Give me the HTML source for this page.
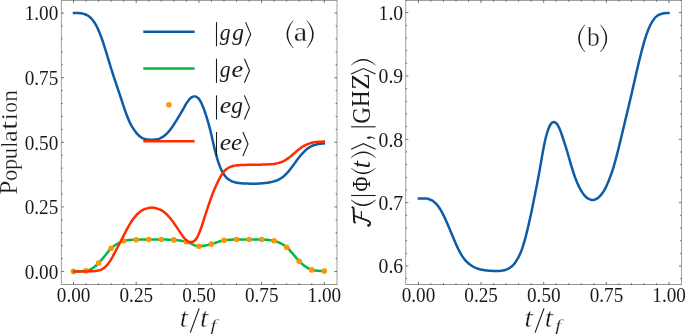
<!DOCTYPE html><html><head><meta charset="utf-8"><style>html,body{margin:0;padding:0;background:#fff;font-family:"Liberation Serif",serif}svg{display:block;will-change:transform}</style></head><body><svg width="685" height="334" viewBox="0 0 685 334"><rect width="685" height="334" fill="#fff"/><g stroke="#111" stroke-width="0.58" fill="none"><path d="M73.50 284.50v-2.6M73.50 0.40v2.6"/><path d="M86.04 284.50v-1.4M86.04 0.40v1.4"/><path d="M98.58 284.50v-1.4M98.58 0.40v1.4"/><path d="M111.12 284.50v-1.4M111.12 0.40v1.4"/><path d="M123.66 284.50v-1.4M123.66 0.40v1.4"/><path d="M136.20 284.50v-2.6M136.20 0.40v2.6"/><path d="M148.74 284.50v-1.4M148.74 0.40v1.4"/><path d="M161.28 284.50v-1.4M161.28 0.40v1.4"/><path d="M173.82 284.50v-1.4M173.82 0.40v1.4"/><path d="M186.36 284.50v-1.4M186.36 0.40v1.4"/><path d="M198.90 284.50v-2.6M198.90 0.40v2.6"/><path d="M211.44 284.50v-1.4M211.44 0.40v1.4"/><path d="M223.98 284.50v-1.4M223.98 0.40v1.4"/><path d="M236.52 284.50v-1.4M236.52 0.40v1.4"/><path d="M249.06 284.50v-1.4M249.06 0.40v1.4"/><path d="M261.60 284.50v-2.6M261.60 0.40v2.6"/><path d="M274.14 284.50v-1.4M274.14 0.40v1.4"/><path d="M286.68 284.50v-1.4M286.68 0.40v1.4"/><path d="M299.22 284.50v-1.4M299.22 0.40v1.4"/><path d="M311.76 284.50v-1.4M311.76 0.40v1.4"/><path d="M324.30 284.50v-2.6M324.30 0.40v2.6"/><path d="M61.40 271.50h2.7M337.00 271.50h-2.7"/><path d="M61.40 206.90h2.7M337.00 206.90h-2.7"/><path d="M61.40 142.30h2.7M337.00 142.30h-2.7"/><path d="M61.40 77.70h2.7M337.00 77.70h-2.7"/><path d="M61.40 13.10h2.7M337.00 13.10h-2.7"/><path d="M61.40 258.58h1.4M337.00 258.58h-1.4"/><path d="M61.40 245.66h1.4M337.00 245.66h-1.4"/><path d="M61.40 232.74h1.4M337.00 232.74h-1.4"/><path d="M61.40 219.82h1.4M337.00 219.82h-1.4"/><path d="M61.40 193.98h1.4M337.00 193.98h-1.4"/><path d="M61.40 181.06h1.4M337.00 181.06h-1.4"/><path d="M61.40 168.14h1.4M337.00 168.14h-1.4"/><path d="M61.40 155.22h1.4M337.00 155.22h-1.4"/><path d="M61.40 129.38h1.4M337.00 129.38h-1.4"/><path d="M61.40 116.46h1.4M337.00 116.46h-1.4"/><path d="M61.40 103.54h1.4M337.00 103.54h-1.4"/><path d="M61.40 90.62h1.4M337.00 90.62h-1.4"/><path d="M61.40 64.78h1.4M337.00 64.78h-1.4"/><path d="M61.40 51.86h1.4M337.00 51.86h-1.4"/><path d="M61.40 38.94h1.4M337.00 38.94h-1.4"/><path d="M61.40 26.02h1.4M337.00 26.02h-1.4"/></g><path d="M61.40 0.40V284.50M337.00 0.40V284.50" fill="none" stroke="#111" stroke-width="0.40"/><path d="M61.20 0.40H337.20M61.20 284.50H337.20" fill="none" stroke="#111" stroke-width="0.46"/><g stroke="#111" stroke-width="0.58" fill="none"><path d="M418.40 284.50v-2.6M418.40 0.40v2.6"/><path d="M430.93 284.50v-1.4M430.93 0.40v1.4"/><path d="M443.46 284.50v-1.4M443.46 0.40v1.4"/><path d="M455.99 284.50v-1.4M455.99 0.40v1.4"/><path d="M468.52 284.50v-1.4M468.52 0.40v1.4"/><path d="M481.05 284.50v-2.6M481.05 0.40v2.6"/><path d="M493.58 284.50v-1.4M493.58 0.40v1.4"/><path d="M506.11 284.50v-1.4M506.11 0.40v1.4"/><path d="M518.64 284.50v-1.4M518.64 0.40v1.4"/><path d="M531.17 284.50v-1.4M531.17 0.40v1.4"/><path d="M543.70 284.50v-2.6M543.70 0.40v2.6"/><path d="M556.23 284.50v-1.4M556.23 0.40v1.4"/><path d="M568.76 284.50v-1.4M568.76 0.40v1.4"/><path d="M581.29 284.50v-1.4M581.29 0.40v1.4"/><path d="M593.82 284.50v-1.4M593.82 0.40v1.4"/><path d="M606.35 284.50v-2.6M606.35 0.40v2.6"/><path d="M618.88 284.50v-1.4M618.88 0.40v1.4"/><path d="M631.41 284.50v-1.4M631.41 0.40v1.4"/><path d="M643.94 284.50v-1.4M643.94 0.40v1.4"/><path d="M656.47 284.50v-1.4M656.47 0.40v1.4"/><path d="M669.00 284.50v-2.6M669.00 0.40v2.6"/><path d="M405.70 266.00h2.7M681.50 266.00h-2.7"/><path d="M405.70 202.65h2.7M681.50 202.65h-2.7"/><path d="M405.70 139.30h2.7M681.50 139.30h-2.7"/><path d="M405.70 75.95h2.7M681.50 75.95h-2.7"/><path d="M405.70 12.60h2.7M681.50 12.60h-2.7"/><path d="M405.70 278.67h1.4M681.50 278.67h-1.4"/><path d="M405.70 253.33h1.4M681.50 253.33h-1.4"/><path d="M405.70 240.66h1.4M681.50 240.66h-1.4"/><path d="M405.70 227.99h1.4M681.50 227.99h-1.4"/><path d="M405.70 215.32h1.4M681.50 215.32h-1.4"/><path d="M405.70 189.98h1.4M681.50 189.98h-1.4"/><path d="M405.70 177.31h1.4M681.50 177.31h-1.4"/><path d="M405.70 164.64h1.4M681.50 164.64h-1.4"/><path d="M405.70 151.97h1.4M681.50 151.97h-1.4"/><path d="M405.70 126.63h1.4M681.50 126.63h-1.4"/><path d="M405.70 113.96h1.4M681.50 113.96h-1.4"/><path d="M405.70 101.29h1.4M681.50 101.29h-1.4"/><path d="M405.70 88.62h1.4M681.50 88.62h-1.4"/><path d="M405.70 63.28h1.4M681.50 63.28h-1.4"/><path d="M405.70 50.61h1.4M681.50 50.61h-1.4"/><path d="M405.70 37.94h1.4M681.50 37.94h-1.4"/><path d="M405.70 25.27h1.4M681.50 25.27h-1.4"/><path d="M405.70 -0.07h1.4M681.50 -0.07h-1.4"/></g><path d="M405.70 0.40V284.50M681.50 0.40V284.50" fill="none" stroke="#111" stroke-width="0.40"/><path d="M405.50 0.40H681.70M405.50 284.50H681.70" fill="none" stroke="#111" stroke-width="0.46"/><clipPath id="ca"><rect x="61.4" y="0.4" width="275.6" height="284.1"/></clipPath><g fill="none" stroke-width="2.50" stroke-linecap="square" stroke-linejoin="round"><path d="M74.00 13.01 C74.17 13.01 74.67 13.01 75.00 13.02 C75.33 13.02 75.67 13.03 76.00 13.03 C76.33 13.04 76.67 13.05 77.00 13.05 C77.33 13.06 77.67 13.07 78.00 13.08 C78.33 13.10 78.67 13.11 79.00 13.12 C79.33 13.14 79.67 13.16 80.00 13.18 C80.33 13.21 80.67 13.24 81.00 13.28 C81.33 13.32 81.67 13.36 82.00 13.42 C82.33 13.49 82.67 13.56 83.00 13.64 C83.33 13.72 83.67 13.82 84.00 13.93 C84.33 14.04 84.67 14.15 85.00 14.28 C85.33 14.41 85.67 14.55 86.00 14.70 C86.33 14.86 86.67 15.02 87.00 15.20 C87.33 15.38 87.67 15.57 88.00 15.79 C88.33 16.00 88.67 16.23 89.00 16.48 C89.33 16.72 89.67 16.99 90.00 17.27 C90.33 17.56 90.67 17.86 91.00 18.19 C91.33 18.52 91.67 18.87 92.00 19.25 C92.33 19.63 92.67 20.04 93.00 20.47 C93.33 20.90 93.67 21.37 94.00 21.86 C94.33 22.35 94.67 22.87 95.00 23.42 C95.33 23.96 95.67 24.53 96.00 25.14 C96.33 25.74 96.67 26.37 97.00 27.04 C97.33 27.70 97.67 28.40 98.00 29.13 C98.33 29.86 98.67 30.62 99.00 31.41 C99.33 32.20 99.67 33.03 100.00 33.88 C100.33 34.73 100.67 35.60 101.00 36.50 C101.33 37.40 101.67 38.32 102.00 39.27 C102.33 40.21 102.67 41.19 103.00 42.18 C103.33 43.17 103.67 44.19 104.00 45.22 C104.33 46.25 104.67 47.31 105.00 48.37 C105.33 49.44 105.67 50.52 106.00 51.60 C106.33 52.68 106.67 53.77 107.00 54.87 C107.33 55.96 107.67 57.06 108.00 58.15 C108.33 59.25 108.67 60.36 109.00 61.46 C109.33 62.55 109.67 63.66 110.00 64.75 C110.33 65.84 110.67 66.93 111.00 68.00 C111.33 69.08 111.67 70.15 112.00 71.20 C112.33 72.25 112.67 73.29 113.00 74.33 C113.33 75.36 113.67 76.37 114.00 77.39 C114.33 78.40 114.67 79.41 115.00 80.41 C115.33 81.41 115.67 82.41 116.00 83.40 C116.33 84.40 116.67 85.39 117.00 86.39 C117.33 87.38 117.67 88.37 118.00 89.36 C118.33 90.36 118.67 91.35 119.00 92.35 C119.33 93.34 119.67 94.34 120.00 95.34 C120.33 96.35 120.67 97.35 121.00 98.36 C121.33 99.37 121.67 100.39 122.00 101.40 C122.33 102.41 122.67 103.42 123.00 104.42 C123.33 105.42 123.67 106.42 124.00 107.40 C124.33 108.38 124.67 109.35 125.00 110.30 C125.33 111.24 125.67 112.18 126.00 113.09 C126.33 114.00 126.67 114.89 127.00 115.76 C127.33 116.62 127.67 117.47 128.00 118.29 C128.33 119.11 128.67 119.91 129.00 120.67 C129.33 121.43 129.67 122.16 130.00 122.86 C130.33 123.55 130.67 124.20 131.00 124.82 C131.33 125.44 131.67 126.02 132.00 126.58 C132.33 127.14 132.67 127.66 133.00 128.18 C133.33 128.69 133.67 129.18 134.00 129.66 C134.33 130.14 134.67 130.61 135.00 131.07 C135.33 131.53 135.67 131.97 136.00 132.40 C136.33 132.82 136.67 133.24 137.00 133.63 C137.33 134.02 137.67 134.39 138.00 134.73 C138.33 135.08 138.67 135.41 139.00 135.71 C139.33 136.01 139.67 136.29 140.00 136.55 C140.33 136.81 140.67 137.04 141.00 137.26 C141.33 137.48 141.67 137.67 142.00 137.85 C142.33 138.04 142.67 138.20 143.00 138.35 C143.33 138.50 143.67 138.63 144.00 138.75 C144.33 138.87 144.67 138.97 145.00 139.06 C145.33 139.15 145.67 139.22 146.00 139.29 C146.33 139.35 146.67 139.40 147.00 139.45 C147.33 139.49 147.67 139.53 148.00 139.56 C148.33 139.59 148.67 139.62 149.00 139.65 C149.33 139.67 149.67 139.69 150.00 139.71 C150.33 139.72 150.67 139.74 151.00 139.75 C151.33 139.75 151.67 139.76 152.00 139.76 C152.33 139.76 152.67 139.76 153.00 139.75 C153.33 139.74 153.67 139.72 154.00 139.70 C154.33 139.68 154.67 139.65 155.00 139.61 C155.33 139.58 155.67 139.54 156.00 139.49 C156.33 139.45 156.67 139.40 157.00 139.33 C157.33 139.27 157.67 139.20 158.00 139.11 C158.33 139.03 158.67 138.93 159.00 138.82 C159.33 138.70 159.67 138.57 160.00 138.43 C160.33 138.28 160.67 138.12 161.00 137.94 C161.33 137.77 161.67 137.58 162.00 137.38 C162.33 137.18 162.67 136.97 163.00 136.75 C163.33 136.52 163.67 136.29 164.00 136.03 C164.33 135.78 164.67 135.52 165.00 135.24 C165.33 134.96 165.67 134.67 166.00 134.37 C166.33 134.06 166.67 133.74 167.00 133.40 C167.33 133.07 167.67 132.72 168.00 132.35 C168.33 131.98 168.67 131.60 169.00 131.20 C169.33 130.80 169.67 130.39 170.00 129.96 C170.33 129.53 170.67 129.09 171.00 128.64 C171.33 128.18 171.67 127.72 172.00 127.24 C172.33 126.77 172.67 126.28 173.00 125.79 C173.33 125.29 173.67 124.79 174.00 124.27 C174.33 123.76 174.67 123.24 175.00 122.71 C175.33 122.18 175.67 121.64 176.00 121.10 C176.33 120.57 176.67 120.02 177.00 119.48 C177.33 118.93 177.67 118.38 178.00 117.84 C178.33 117.29 178.67 116.74 179.00 116.19 C179.33 115.63 179.67 115.08 180.00 114.52 C180.33 113.97 180.67 113.41 181.00 112.85 C181.33 112.29 181.67 111.73 182.00 111.16 C182.33 110.59 182.67 110.02 183.00 109.44 C183.33 108.86 183.67 108.28 184.00 107.69 C184.33 107.11 184.67 106.52 185.00 105.94 C185.33 105.36 185.67 104.78 186.00 104.23 C186.33 103.67 186.67 103.12 187.00 102.61 C187.33 102.09 187.67 101.59 188.00 101.12 C188.33 100.65 188.67 100.21 189.00 99.80 C189.33 99.39 189.67 99.01 190.00 98.67 C190.33 98.33 190.67 98.01 191.00 97.75 C191.33 97.48 191.67 97.24 192.00 97.05 C192.33 96.86 192.67 96.71 193.00 96.59 C193.33 96.48 193.67 96.40 194.00 96.37 C194.33 96.33 194.67 96.33 195.00 96.38 C195.33 96.42 195.67 96.51 196.00 96.64 C196.33 96.77 196.67 96.94 197.00 97.17 C197.33 97.39 197.67 97.66 198.00 97.98 C198.33 98.30 198.67 98.67 199.00 99.09 C199.33 99.52 199.67 100.00 200.00 100.53 C200.33 101.07 200.67 101.65 201.00 102.30 C201.33 102.94 201.67 103.63 202.00 104.38 C202.33 105.12 202.67 105.92 203.00 106.76 C203.33 107.59 203.67 108.48 204.00 109.39 C204.33 110.31 204.67 111.27 205.00 112.25 C205.33 113.23 205.67 114.24 206.00 115.27 C206.33 116.31 206.67 117.36 207.00 118.45 C207.33 119.54 207.67 120.64 208.00 121.79 C208.33 122.94 208.67 124.12 209.00 125.35 C209.33 126.58 209.67 127.85 210.00 129.17 C210.33 130.49 210.67 131.86 211.00 133.27 C211.33 134.68 211.67 136.15 212.00 137.61 C212.33 139.07 212.67 140.58 213.00 142.04 C213.33 143.51 213.67 144.98 214.00 146.39 C214.33 147.80 214.67 149.19 215.00 150.51 C215.33 151.83 215.67 153.10 216.00 154.33 C216.33 155.55 216.67 156.72 217.00 157.84 C217.33 158.96 217.67 160.03 218.00 161.06 C218.33 162.09 218.67 163.07 219.00 164.01 C219.33 164.94 219.67 165.84 220.00 166.68 C220.33 167.52 220.67 168.32 221.00 169.06 C221.33 169.81 221.67 170.50 222.00 171.15 C222.33 171.80 222.67 172.39 223.00 172.96 C223.33 173.52 223.67 174.04 224.00 174.53 C224.33 175.01 224.67 175.46 225.00 175.89 C225.33 176.31 225.67 176.70 226.00 177.06 C226.33 177.42 226.67 177.75 227.00 178.06 C227.33 178.37 227.67 178.65 228.00 178.92 C228.33 179.18 228.67 179.42 229.00 179.65 C229.33 179.88 229.67 180.09 230.00 180.28 C230.33 180.48 230.67 180.66 231.00 180.83 C231.33 181.00 231.67 181.16 232.00 181.30 C232.33 181.45 232.67 181.57 233.00 181.69 C233.33 181.81 233.67 181.92 234.00 182.02 C234.33 182.12 234.67 182.20 235.00 182.29 C235.33 182.37 235.67 182.45 236.00 182.52 C236.33 182.60 236.67 182.67 237.00 182.73 C237.33 182.80 237.67 182.86 238.00 182.91 C238.33 182.97 238.67 183.02 239.00 183.07 C239.33 183.11 239.67 183.16 240.00 183.19 C240.33 183.23 240.67 183.27 241.00 183.29 C241.33 183.32 241.67 183.35 242.00 183.37 C242.33 183.39 242.67 183.41 243.00 183.43 C243.33 183.44 243.67 183.46 244.00 183.47 C244.33 183.49 244.67 183.50 245.00 183.51 C245.33 183.52 245.67 183.54 246.00 183.55 C246.33 183.56 246.67 183.57 247.00 183.58 C247.33 183.59 247.67 183.60 248.00 183.60 C248.33 183.61 248.67 183.62 249.00 183.63 C249.33 183.64 249.67 183.64 250.00 183.65 C250.33 183.66 250.67 183.66 251.00 183.67 C251.33 183.67 251.67 183.68 252.00 183.68 C252.33 183.68 252.67 183.69 253.00 183.69 C253.33 183.69 253.67 183.69 254.00 183.69 C254.33 183.69 254.67 183.69 255.00 183.69 C255.33 183.68 255.67 183.68 256.00 183.67 C256.33 183.66 256.67 183.65 257.00 183.64 C257.33 183.63 257.67 183.62 258.00 183.60 C258.33 183.59 258.67 183.57 259.00 183.55 C259.33 183.53 259.67 183.51 260.00 183.49 C260.33 183.47 260.67 183.44 261.00 183.42 C261.33 183.39 261.67 183.36 262.00 183.33 C262.33 183.31 262.67 183.28 263.00 183.25 C263.33 183.21 263.67 183.18 264.00 183.15 C264.33 183.12 264.67 183.08 265.00 183.05 C265.33 183.01 265.67 182.97 266.00 182.94 C266.33 182.90 266.67 182.86 267.00 182.82 C267.33 182.77 267.67 182.73 268.00 182.68 C268.33 182.63 268.67 182.58 269.00 182.52 C269.33 182.47 269.67 182.41 270.00 182.34 C270.33 182.28 270.67 182.21 271.00 182.13 C271.33 182.06 271.67 181.98 272.00 181.90 C272.33 181.82 272.67 181.73 273.00 181.64 C273.33 181.55 273.67 181.46 274.00 181.36 C274.33 181.26 274.67 181.16 275.00 181.05 C275.33 180.94 275.67 180.83 276.00 180.71 C276.33 180.59 276.67 180.46 277.00 180.33 C277.33 180.19 277.67 180.05 278.00 179.90 C278.33 179.75 278.67 179.59 279.00 179.42 C279.33 179.25 279.67 179.07 280.00 178.88 C280.33 178.69 280.67 178.50 281.00 178.29 C281.33 178.08 281.67 177.86 282.00 177.63 C282.33 177.39 282.67 177.15 283.00 176.89 C283.33 176.63 283.67 176.36 284.00 176.07 C284.33 175.78 284.67 175.48 285.00 175.16 C285.33 174.85 285.67 174.52 286.00 174.18 C286.33 173.85 286.67 173.50 287.00 173.14 C287.33 172.78 287.67 172.42 288.00 172.03 C288.33 171.65 288.67 171.26 289.00 170.86 C289.33 170.46 289.67 170.04 290.00 169.61 C290.33 169.19 290.67 168.75 291.00 168.30 C291.33 167.86 291.67 167.40 292.00 166.95 C292.33 166.49 292.67 166.03 293.00 165.57 C293.33 165.11 293.67 164.65 294.00 164.20 C294.33 163.74 294.67 163.28 295.00 162.83 C295.33 162.37 295.67 161.92 296.00 161.46 C296.33 161.01 296.67 160.56 297.00 160.11 C297.33 159.66 297.67 159.22 298.00 158.78 C298.33 158.34 298.67 157.90 299.00 157.48 C299.33 157.05 299.67 156.64 300.00 156.23 C300.33 155.82 300.67 155.42 301.00 155.03 C301.33 154.64 301.67 154.26 302.00 153.89 C302.33 153.52 302.67 153.15 303.00 152.80 C303.33 152.44 303.67 152.10 304.00 151.76 C304.33 151.42 304.67 151.10 305.00 150.79 C305.33 150.48 305.67 150.18 306.00 149.89 C306.33 149.60 306.67 149.33 307.00 149.07 C307.33 148.81 307.67 148.56 308.00 148.33 C308.33 148.09 308.67 147.86 309.00 147.64 C309.33 147.42 309.67 147.22 310.00 147.02 C310.33 146.82 310.67 146.63 311.00 146.46 C311.33 146.28 311.67 146.11 312.00 145.96 C312.33 145.80 312.67 145.66 313.00 145.53 C313.33 145.40 313.67 145.28 314.00 145.16 C314.33 145.05 314.67 144.94 315.00 144.84 C315.33 144.74 315.67 144.65 316.00 144.56 C316.33 144.48 316.67 144.40 317.00 144.32 C317.33 144.25 317.67 144.18 318.00 144.11 C318.33 144.05 318.67 143.99 319.00 143.94 C319.33 143.88 319.67 143.84 320.00 143.79 C320.33 143.75 320.67 143.71 321.00 143.67 C321.33 143.63 321.67 143.60 322.00 143.57 C322.33 143.54 322.70 143.52 323.00 143.50 C323.30 143.48 323.67 143.46 323.80 143.45" stroke="#0C5DA5"/><path d="M74.00 271.40 C74.17 271.39 74.67 271.39 75.00 271.39 C75.33 271.38 75.67 271.38 76.00 271.38 C76.33 271.37 76.67 271.36 77.00 271.36 C77.33 271.35 77.67 271.34 78.00 271.34 C78.33 271.33 78.67 271.32 79.00 271.31 C79.33 271.30 79.67 271.29 80.00 271.27 C80.33 271.26 80.67 271.24 81.00 271.22 C81.33 271.20 81.67 271.18 82.00 271.15 C82.33 271.12 82.67 271.09 83.00 271.06 C83.33 271.03 83.67 270.99 84.00 270.95 C84.33 270.92 84.67 270.87 85.00 270.83 C85.33 270.78 85.67 270.73 86.00 270.68 C86.33 270.62 86.67 270.55 87.00 270.48 C87.33 270.41 87.67 270.32 88.00 270.23 C88.33 270.14 88.67 270.03 89.00 269.92 C89.33 269.81 89.67 269.69 90.00 269.55 C90.33 269.42 90.67 269.28 91.00 269.12 C91.33 268.96 91.67 268.80 92.00 268.61 C92.33 268.42 92.67 268.21 93.00 267.98 C93.33 267.75 93.67 267.50 94.00 267.24 C94.33 266.98 94.67 266.69 95.00 266.40 C95.33 266.11 95.67 265.80 96.00 265.49 C96.33 265.18 96.67 264.86 97.00 264.54 C97.33 264.21 97.67 263.89 98.00 263.56 C98.33 263.23 98.67 262.89 99.00 262.55 C99.33 262.21 99.67 261.86 100.00 261.50 C100.33 261.14 100.67 260.78 101.00 260.40 C101.33 260.03 101.67 259.65 102.00 259.26 C102.33 258.88 102.67 258.48 103.00 258.09 C103.33 257.70 103.67 257.30 104.00 256.90 C104.33 256.50 104.67 256.10 105.00 255.70 C105.33 255.29 105.67 254.88 106.00 254.46 C106.33 254.04 106.67 253.62 107.00 253.20 C107.33 252.77 107.67 252.34 108.00 251.92 C108.33 251.50 108.67 251.08 109.00 250.69 C109.33 250.29 109.67 249.90 110.00 249.54 C110.33 249.17 110.67 248.83 111.00 248.50 C111.33 248.17 111.67 247.87 112.00 247.57 C112.33 247.28 112.67 247.00 113.00 246.73 C113.33 246.46 113.67 246.20 114.00 245.95 C114.33 245.71 114.67 245.47 115.00 245.24 C115.33 245.01 115.67 244.79 116.00 244.58 C116.33 244.36 116.67 244.16 117.00 243.97 C117.33 243.77 117.67 243.59 118.00 243.41 C118.33 243.23 118.67 243.05 119.00 242.89 C119.33 242.72 119.67 242.55 120.00 242.40 C120.33 242.24 120.67 242.09 121.00 241.95 C121.33 241.81 121.67 241.68 122.00 241.56 C122.33 241.44 122.67 241.33 123.00 241.22 C123.33 241.12 123.67 241.03 124.00 240.94 C124.33 240.86 124.67 240.78 125.00 240.70 C125.33 240.63 125.67 240.56 126.00 240.49 C126.33 240.42 126.67 240.36 127.00 240.30 C127.33 240.25 127.67 240.20 128.00 240.15 C128.33 240.10 128.67 240.06 129.00 240.02 C129.33 239.99 129.67 239.96 130.00 239.93 C130.33 239.91 130.67 239.89 131.00 239.87 C131.33 239.85 131.67 239.84 132.00 239.82 C132.33 239.81 132.67 239.80 133.00 239.79 C133.33 239.77 133.67 239.77 134.00 239.76 C134.33 239.75 134.67 239.74 135.00 239.73 C135.33 239.72 135.67 239.71 136.00 239.70 C136.33 239.70 136.67 239.69 137.00 239.68 C137.33 239.67 137.67 239.67 138.00 239.66 C138.33 239.65 138.67 239.64 139.00 239.64 C139.33 239.63 139.67 239.62 140.00 239.62 C140.33 239.61 140.67 239.60 141.00 239.59 C141.33 239.59 141.67 239.58 142.00 239.57 C142.33 239.57 142.67 239.56 143.00 239.56 C143.33 239.55 143.67 239.55 144.00 239.54 C144.33 239.54 144.67 239.53 145.00 239.53 C145.33 239.52 145.67 239.52 146.00 239.52 C146.33 239.51 146.67 239.51 147.00 239.51 C147.33 239.51 147.67 239.50 148.00 239.50 C148.33 239.50 148.67 239.50 149.00 239.50 C149.33 239.50 149.67 239.50 150.00 239.50 C150.33 239.50 150.67 239.50 151.00 239.50 C151.33 239.50 151.67 239.50 152.00 239.50 C152.33 239.50 152.67 239.50 153.00 239.50 C153.33 239.50 153.67 239.50 154.00 239.50 C154.33 239.50 154.67 239.50 155.00 239.50 C155.33 239.50 155.67 239.50 156.00 239.50 C156.33 239.50 156.67 239.50 157.00 239.50 C157.33 239.50 157.67 239.50 158.00 239.50 C158.33 239.50 158.67 239.50 159.00 239.50 C159.33 239.50 159.67 239.50 160.00 239.50 C160.33 239.50 160.67 239.50 161.00 239.50 C161.33 239.50 161.67 239.50 162.00 239.51 C162.33 239.51 162.67 239.51 163.00 239.51 C163.33 239.52 163.67 239.52 164.00 239.53 C164.33 239.53 164.67 239.54 165.00 239.55 C165.33 239.56 165.67 239.56 166.00 239.57 C166.33 239.58 166.67 239.59 167.00 239.60 C167.33 239.61 167.67 239.62 168.00 239.64 C168.33 239.65 168.67 239.66 169.00 239.67 C169.33 239.69 169.67 239.70 170.00 239.72 C170.33 239.73 170.67 239.75 171.00 239.76 C171.33 239.78 171.67 239.79 172.00 239.81 C172.33 239.83 172.67 239.84 173.00 239.86 C173.33 239.88 173.67 239.90 174.00 239.92 C174.33 239.94 174.67 239.96 175.00 239.99 C175.33 240.02 175.67 240.05 176.00 240.08 C176.33 240.11 176.67 240.14 177.00 240.18 C177.33 240.22 177.67 240.26 178.00 240.30 C178.33 240.35 178.67 240.39 179.00 240.44 C179.33 240.49 179.67 240.54 180.00 240.59 C180.33 240.65 180.67 240.70 181.00 240.76 C181.33 240.82 181.67 240.87 182.00 240.93 C182.33 241.00 182.67 241.06 183.00 241.12 C183.33 241.18 183.67 241.25 184.00 241.32 C184.33 241.38 184.67 241.45 185.00 241.52 C185.33 241.59 185.67 241.67 186.00 241.75 C186.33 241.83 186.67 241.91 187.00 242.01 C187.33 242.10 187.67 242.21 188.00 242.32 C188.33 242.44 188.67 242.57 189.00 242.70 C189.33 242.84 189.67 242.98 190.00 243.13 C190.33 243.28 190.67 243.44 191.00 243.60 C191.33 243.75 191.67 243.91 192.00 244.07 C192.33 244.23 192.67 244.39 193.00 244.54 C193.33 244.70 193.67 244.85 194.00 244.99 C194.33 245.14 194.67 245.27 195.00 245.40 C195.33 245.52 195.67 245.64 196.00 245.74 C196.33 245.84 196.67 245.93 197.00 246.00 C197.33 246.07 197.67 246.13 198.00 246.17 C198.33 246.21 198.67 246.23 199.00 246.24 C199.33 246.25 199.67 246.25 200.00 246.24 C200.33 246.22 200.67 246.20 201.00 246.17 C201.33 246.14 201.67 246.11 202.00 246.07 C202.33 246.03 202.67 245.98 203.00 245.93 C203.33 245.88 203.67 245.82 204.00 245.76 C204.33 245.70 204.67 245.64 205.00 245.57 C205.33 245.50 205.67 245.43 206.00 245.36 C206.33 245.29 206.67 245.21 207.00 245.14 C207.33 245.06 207.67 244.98 208.00 244.91 C208.33 244.83 208.67 244.75 209.00 244.67 C209.33 244.59 209.67 244.51 210.00 244.43 C210.33 244.35 210.67 244.28 211.00 244.19 C211.33 244.11 211.67 244.03 212.00 243.94 C212.33 243.85 212.67 243.76 213.00 243.66 C213.33 243.56 213.67 243.46 214.00 243.35 C214.33 243.24 214.67 243.13 215.00 243.01 C215.33 242.90 215.67 242.77 216.00 242.65 C216.33 242.53 216.67 242.41 217.00 242.28 C217.33 242.16 217.67 242.04 218.00 241.92 C218.33 241.80 218.67 241.68 219.00 241.56 C219.33 241.45 219.67 241.34 220.00 241.23 C220.33 241.13 220.67 241.03 221.00 240.94 C221.33 240.84 221.67 240.76 222.00 240.68 C222.33 240.61 222.67 240.54 223.00 240.48 C223.33 240.42 223.67 240.37 224.00 240.32 C224.33 240.28 224.67 240.24 225.00 240.20 C225.33 240.16 225.67 240.13 226.00 240.10 C226.33 240.07 226.67 240.03 227.00 240.00 C227.33 239.97 227.67 239.94 228.00 239.92 C228.33 239.89 228.67 239.86 229.00 239.83 C229.33 239.81 229.67 239.78 230.00 239.76 C230.33 239.73 230.67 239.71 231.00 239.69 C231.33 239.67 231.67 239.65 232.00 239.63 C232.33 239.62 232.67 239.60 233.00 239.59 C233.33 239.57 233.67 239.56 234.00 239.55 C234.33 239.54 234.67 239.53 235.00 239.52 C235.33 239.52 235.67 239.51 236.00 239.51 C236.33 239.51 236.67 239.50 237.00 239.50 C237.33 239.50 237.67 239.50 238.00 239.50 C238.33 239.50 238.67 239.50 239.00 239.50 C239.33 239.50 239.67 239.50 240.00 239.50 C240.33 239.50 240.67 239.50 241.00 239.50 C241.33 239.50 241.67 239.50 242.00 239.50 C242.33 239.50 242.67 239.50 243.00 239.50 C243.33 239.50 243.67 239.50 244.00 239.50 C244.33 239.50 244.67 239.50 245.00 239.50 C245.33 239.50 245.67 239.50 246.00 239.50 C246.33 239.50 246.67 239.50 247.00 239.50 C247.33 239.50 247.67 239.50 248.00 239.50 C248.33 239.50 248.67 239.50 249.00 239.50 C249.33 239.50 249.67 239.50 250.00 239.50 C250.33 239.50 250.67 239.50 251.00 239.50 C251.33 239.50 251.67 239.50 252.00 239.50 C252.33 239.50 252.67 239.50 253.00 239.50 C253.33 239.50 253.67 239.50 254.00 239.50 C254.33 239.50 254.67 239.50 255.00 239.50 C255.33 239.50 255.67 239.50 256.00 239.50 C256.33 239.50 256.67 239.50 257.00 239.50 C257.33 239.50 257.67 239.50 258.00 239.50 C258.33 239.50 258.67 239.50 259.00 239.50 C259.33 239.50 259.67 239.50 260.00 239.50 C260.33 239.50 260.67 239.50 261.00 239.50 C261.33 239.51 261.67 239.51 262.00 239.51 C262.33 239.52 262.67 239.52 263.00 239.53 C263.33 239.54 263.67 239.56 264.00 239.57 C264.33 239.59 264.67 239.61 265.00 239.63 C265.33 239.65 265.67 239.68 266.00 239.71 C266.33 239.73 266.67 239.76 267.00 239.80 C267.33 239.83 267.67 239.87 268.00 239.90 C268.33 239.94 268.67 239.98 269.00 240.02 C269.33 240.06 269.67 240.11 270.00 240.15 C270.33 240.20 270.67 240.25 271.00 240.30 C271.33 240.35 271.67 240.40 272.00 240.45 C272.33 240.50 272.67 240.56 273.00 240.62 C273.33 240.68 273.67 240.74 274.00 240.80 C274.33 240.87 274.67 240.95 275.00 241.03 C275.33 241.12 275.67 241.22 276.00 241.32 C276.33 241.43 276.67 241.54 277.00 241.67 C277.33 241.79 277.67 241.93 278.00 242.07 C278.33 242.21 278.67 242.36 279.00 242.51 C279.33 242.66 279.67 242.82 280.00 242.98 C280.33 243.14 280.67 243.30 281.00 243.48 C281.33 243.65 281.67 243.83 282.00 244.02 C282.33 244.21 282.67 244.40 283.00 244.61 C283.33 244.82 283.67 245.03 284.00 245.25 C284.33 245.48 284.67 245.71 285.00 245.95 C285.33 246.19 285.67 246.45 286.00 246.71 C286.33 246.97 286.67 247.25 287.00 247.54 C287.33 247.83 287.67 248.14 288.00 248.46 C288.33 248.79 288.67 249.13 289.00 249.48 C289.33 249.83 289.67 250.19 290.00 250.56 C290.33 250.93 290.67 251.32 291.00 251.70 C291.33 252.08 291.67 252.46 292.00 252.85 C292.33 253.24 292.67 253.62 293.00 254.01 C293.33 254.40 293.67 254.80 294.00 255.19 C294.33 255.59 294.67 255.99 295.00 256.40 C295.33 256.80 295.67 257.21 296.00 257.61 C296.33 258.01 296.67 258.42 297.00 258.80 C297.33 259.19 297.67 259.58 298.00 259.95 C298.33 260.32 298.67 260.68 299.00 261.02 C299.33 261.37 299.67 261.70 300.00 262.02 C300.33 262.35 300.67 262.66 301.00 262.97 C301.33 263.27 301.67 263.57 302.00 263.86 C302.33 264.15 302.67 264.44 303.00 264.71 C303.33 264.98 303.67 265.24 304.00 265.50 C304.33 265.75 304.67 265.99 305.00 266.23 C305.33 266.46 305.67 266.69 306.00 266.91 C306.33 267.13 306.67 267.35 307.00 267.56 C307.33 267.77 307.67 267.98 308.00 268.17 C308.33 268.37 308.67 268.56 309.00 268.73 C309.33 268.91 309.67 269.07 310.00 269.22 C310.33 269.36 310.67 269.49 311.00 269.61 C311.33 269.72 311.67 269.82 312.00 269.91 C312.33 269.99 312.67 270.06 313.00 270.13 C313.33 270.20 313.67 270.26 314.00 270.32 C314.33 270.37 314.67 270.42 315.00 270.47 C315.33 270.52 315.67 270.56 316.00 270.60 C316.33 270.64 316.67 270.67 317.00 270.70 C317.33 270.74 317.67 270.76 318.00 270.79 C318.33 270.82 318.67 270.84 319.00 270.87 C319.33 270.89 319.67 270.91 320.00 270.93 C320.33 270.95 320.67 270.97 321.00 270.99 C321.33 271.01 321.67 271.02 322.00 271.04 C322.33 271.05 322.70 271.06 323.00 271.07 C323.30 271.08 323.67 271.08 323.80 271.09" stroke="#00B945"/></g><g fill="#FF9500"><circle cx="73.50" cy="271.40" r="2.8"/><circle cx="86.04" cy="270.70" r="2.8"/><circle cx="98.58" cy="263.00" r="2.8"/><circle cx="111.12" cy="248.30" r="2.8"/><circle cx="123.66" cy="241.00" r="2.8"/><circle cx="136.20" cy="239.70" r="2.8"/><circle cx="148.74" cy="239.50" r="2.8"/><circle cx="161.28" cy="239.50" r="2.8"/><circle cx="173.82" cy="239.90" r="2.8"/><circle cx="186.36" cy="241.80" r="2.8"/><circle cx="198.90" cy="246.30" r="2.8"/><circle cx="211.44" cy="244.10" r="2.8"/><circle cx="223.98" cy="240.30" r="2.8"/><circle cx="236.52" cy="239.50" r="2.8"/><circle cx="249.06" cy="239.50" r="2.8"/><circle cx="261.60" cy="239.50" r="2.8"/><circle cx="274.14" cy="240.80" r="2.8"/><circle cx="286.68" cy="247.20" r="2.8"/><circle cx="299.22" cy="261.30" r="2.8"/><circle cx="311.76" cy="269.90" r="2.8"/><circle cx="324.30" cy="271.10" r="2.8"/></g><g fill="none" stroke-width="2.50" stroke-linecap="square" stroke-linejoin="round"><path d="M74.00 271.40 C74.17 271.40 74.67 271.40 75.00 271.40 C75.33 271.40 75.67 271.40 76.00 271.40 C76.33 271.40 76.67 271.40 77.00 271.40 C77.33 271.40 77.67 271.40 78.00 271.40 C78.33 271.40 78.67 271.40 79.00 271.40 C79.33 271.40 79.67 271.40 80.00 271.40 C80.33 271.40 80.67 271.40 81.00 271.40 C81.33 271.40 81.67 271.40 82.00 271.40 C82.33 271.40 82.67 271.40 83.00 271.40 C83.33 271.40 83.67 271.40 84.00 271.40 C84.33 271.40 84.67 271.40 85.00 271.40 C85.33 271.40 85.67 271.40 86.00 271.39 C86.33 271.39 86.67 271.39 87.00 271.39 C87.33 271.38 87.67 271.38 88.00 271.38 C88.33 271.37 88.67 271.36 89.00 271.36 C89.33 271.35 89.67 271.34 90.00 271.33 C90.33 271.32 90.67 271.31 91.00 271.30 C91.33 271.29 91.67 271.27 92.00 271.26 C92.33 271.24 92.67 271.22 93.00 271.20 C93.33 271.18 93.67 271.15 94.00 271.12 C94.33 271.09 94.67 271.06 95.00 271.03 C95.33 270.99 95.67 270.95 96.00 270.91 C96.33 270.87 96.67 270.82 97.00 270.77 C97.33 270.72 97.67 270.66 98.00 270.60 C98.33 270.54 98.67 270.47 99.00 270.39 C99.33 270.31 99.67 270.22 100.00 270.11 C100.33 270.00 100.67 269.88 101.00 269.74 C101.33 269.59 101.67 269.43 102.00 269.25 C102.33 269.07 102.67 268.87 103.00 268.65 C103.33 268.43 103.67 268.20 104.00 267.95 C104.33 267.69 104.67 267.42 105.00 267.14 C105.33 266.85 105.67 266.54 106.00 266.21 C106.33 265.87 106.67 265.52 107.00 265.15 C107.33 264.77 107.67 264.37 108.00 263.95 C108.33 263.53 108.67 263.09 109.00 262.63 C109.33 262.16 109.67 261.68 110.00 261.17 C110.33 260.67 110.67 260.14 111.00 259.58 C111.33 259.03 111.67 258.45 112.00 257.86 C112.33 257.27 112.67 256.65 113.00 256.03 C113.33 255.41 113.67 254.76 114.00 254.13 C114.33 253.49 114.67 252.84 115.00 252.21 C115.33 251.57 115.67 250.93 116.00 250.30 C116.33 249.66 116.67 249.03 117.00 248.41 C117.33 247.78 117.67 247.15 118.00 246.52 C118.33 245.90 118.67 245.27 119.00 244.64 C119.33 244.01 119.67 243.38 120.00 242.75 C120.33 242.11 120.67 241.47 121.00 240.83 C121.33 240.19 121.67 239.54 122.00 238.89 C122.33 238.23 122.67 237.57 123.00 236.91 C123.33 236.25 123.67 235.59 124.00 234.93 C124.33 234.27 124.67 233.60 125.00 232.95 C125.33 232.29 125.67 231.64 126.00 231.00 C126.33 230.36 126.67 229.73 127.00 229.11 C127.33 228.49 127.67 227.89 128.00 227.29 C128.33 226.70 128.67 226.11 129.00 225.54 C129.33 224.97 129.67 224.41 130.00 223.86 C130.33 223.31 130.67 222.77 131.00 222.25 C131.33 221.73 131.67 221.22 132.00 220.73 C132.33 220.24 132.67 219.76 133.00 219.30 C133.33 218.84 133.67 218.40 134.00 217.97 C134.33 217.54 134.67 217.12 135.00 216.72 C135.33 216.32 135.67 215.94 136.00 215.56 C136.33 215.19 136.67 214.83 137.00 214.49 C137.33 214.14 137.67 213.81 138.00 213.50 C138.33 213.18 138.67 212.88 139.00 212.59 C139.33 212.30 139.67 212.03 140.00 211.76 C140.33 211.50 140.67 211.25 141.00 211.01 C141.33 210.78 141.67 210.56 142.00 210.35 C142.33 210.15 142.67 209.96 143.00 209.79 C143.33 209.62 143.67 209.47 144.00 209.33 C144.33 209.19 144.67 209.07 145.00 208.95 C145.33 208.83 145.67 208.73 146.00 208.63 C146.33 208.52 146.67 208.43 147.00 208.34 C147.33 208.25 147.67 208.17 148.00 208.09 C148.33 208.02 148.67 207.95 149.00 207.89 C149.33 207.83 149.67 207.78 150.00 207.73 C150.33 207.69 150.67 207.66 151.00 207.63 C151.33 207.61 151.67 207.60 152.00 207.60 C152.33 207.60 152.67 207.61 153.00 207.63 C153.33 207.66 153.67 207.69 154.00 207.74 C154.33 207.79 154.67 207.85 155.00 207.92 C155.33 207.99 155.67 208.08 156.00 208.17 C156.33 208.26 156.67 208.36 157.00 208.47 C157.33 208.57 157.67 208.69 158.00 208.81 C158.33 208.93 158.67 209.05 159.00 209.19 C159.33 209.32 159.67 209.46 160.00 209.61 C160.33 209.76 160.67 209.92 161.00 210.09 C161.33 210.26 161.67 210.45 162.00 210.65 C162.33 210.85 162.67 211.07 163.00 211.30 C163.33 211.53 163.67 211.78 164.00 212.04 C164.33 212.30 164.67 212.58 165.00 212.87 C165.33 213.16 165.67 213.46 166.00 213.77 C166.33 214.08 166.67 214.40 167.00 214.72 C167.33 215.05 167.67 215.38 168.00 215.73 C168.33 216.08 168.67 216.43 169.00 216.79 C169.33 217.16 169.67 217.54 170.00 217.93 C170.33 218.32 170.67 218.73 171.00 219.15 C171.33 219.57 171.67 220.01 172.00 220.45 C172.33 220.90 172.67 221.36 173.00 221.83 C173.33 222.30 173.67 222.78 174.00 223.25 C174.33 223.73 174.67 224.22 175.00 224.71 C175.33 225.19 175.67 225.68 176.00 226.17 C176.33 226.66 176.67 227.15 177.00 227.64 C177.33 228.13 177.67 228.63 178.00 229.12 C178.33 229.62 178.67 230.13 179.00 230.63 C179.33 231.14 179.67 231.65 180.00 232.15 C180.33 232.66 180.67 233.17 181.00 233.66 C181.33 234.16 181.67 234.65 182.00 235.12 C182.33 235.60 182.67 236.06 183.00 236.49 C183.33 236.93 183.67 237.35 184.00 237.74 C184.33 238.14 184.67 238.51 185.00 238.86 C185.33 239.21 185.67 239.54 186.00 239.84 C186.33 240.14 186.67 240.42 187.00 240.66 C187.33 240.90 187.67 241.12 188.00 241.29 C188.33 241.47 188.67 241.62 189.00 241.74 C189.33 241.85 189.67 241.94 190.00 241.99 C190.33 242.05 190.67 242.08 191.00 242.07 C191.33 242.07 191.67 242.04 192.00 241.98 C192.33 241.91 192.67 241.82 193.00 241.67 C193.33 241.53 193.67 241.36 194.00 241.13 C194.33 240.89 194.67 240.62 195.00 240.28 C195.33 239.95 195.67 239.56 196.00 239.11 C196.33 238.66 196.67 238.15 197.00 237.58 C197.33 237.01 197.67 236.38 198.00 235.69 C198.33 235.01 198.67 234.27 199.00 233.49 C199.33 232.71 199.67 231.87 200.00 231.00 C200.33 230.12 200.67 229.20 201.00 228.25 C201.33 227.30 201.67 226.30 202.00 225.29 C202.33 224.29 202.67 223.24 203.00 222.20 C203.33 221.17 203.67 220.11 204.00 219.07 C204.33 218.04 204.67 217.00 205.00 215.98 C205.33 214.96 205.67 213.95 206.00 212.94 C206.33 211.93 206.67 210.94 207.00 209.94 C207.33 208.94 207.67 207.95 208.00 206.95 C208.33 205.96 208.67 204.96 209.00 203.97 C209.33 202.98 209.67 201.98 210.00 201.01 C210.33 200.03 210.67 199.05 211.00 198.11 C211.33 197.17 211.67 196.24 212.00 195.35 C212.33 194.46 212.67 193.59 213.00 192.76 C213.33 191.92 213.67 191.12 214.00 190.33 C214.33 189.54 214.67 188.78 215.00 188.02 C215.33 187.27 215.67 186.53 216.00 185.79 C216.33 185.06 216.67 184.33 217.00 183.61 C217.33 182.90 217.67 182.19 218.00 181.50 C218.33 180.80 218.67 180.12 219.00 179.47 C219.33 178.81 219.67 178.18 220.00 177.56 C220.33 176.95 220.67 176.36 221.00 175.80 C221.33 175.23 221.67 174.69 222.00 174.18 C222.33 173.68 222.67 173.19 223.00 172.74 C223.33 172.29 223.67 171.87 224.00 171.48 C224.33 171.09 224.67 170.73 225.00 170.40 C225.33 170.06 225.67 169.75 226.00 169.47 C226.33 169.18 226.67 168.92 227.00 168.67 C227.33 168.43 227.67 168.21 228.00 168.00 C228.33 167.80 228.67 167.62 229.00 167.46 C229.33 167.29 229.67 167.15 230.00 167.01 C230.33 166.87 230.67 166.75 231.00 166.64 C231.33 166.53 231.67 166.42 232.00 166.32 C232.33 166.23 232.67 166.14 233.00 166.05 C233.33 165.96 233.67 165.88 234.00 165.81 C234.33 165.74 234.67 165.67 235.00 165.61 C235.33 165.55 235.67 165.49 236.00 165.45 C236.33 165.40 236.67 165.36 237.00 165.32 C237.33 165.28 237.67 165.25 238.00 165.22 C238.33 165.20 238.67 165.18 239.00 165.15 C239.33 165.13 239.67 165.12 240.00 165.10 C240.33 165.08 240.67 165.07 241.00 165.05 C241.33 165.04 241.67 165.03 242.00 165.02 C242.33 165.00 242.67 164.99 243.00 164.98 C243.33 164.97 243.67 164.96 244.00 164.95 C244.33 164.94 244.67 164.93 245.00 164.92 C245.33 164.91 245.67 164.91 246.00 164.90 C246.33 164.89 246.67 164.88 247.00 164.87 C247.33 164.87 247.67 164.86 248.00 164.85 C248.33 164.85 248.67 164.84 249.00 164.83 C249.33 164.82 249.67 164.82 250.00 164.81 C250.33 164.80 250.67 164.80 251.00 164.79 C251.33 164.79 251.67 164.78 252.00 164.77 C252.33 164.77 252.67 164.76 253.00 164.76 C253.33 164.75 253.67 164.75 254.00 164.74 C254.33 164.74 254.67 164.73 255.00 164.73 C255.33 164.72 255.67 164.72 256.00 164.72 C256.33 164.71 256.67 164.71 257.00 164.70 C257.33 164.70 257.67 164.69 258.00 164.69 C258.33 164.69 258.67 164.68 259.00 164.68 C259.33 164.67 259.67 164.67 260.00 164.66 C260.33 164.65 260.67 164.65 261.00 164.64 C261.33 164.64 261.67 164.63 262.00 164.62 C262.33 164.61 262.67 164.61 263.00 164.60 C263.33 164.59 263.67 164.58 264.00 164.57 C264.33 164.56 264.67 164.55 265.00 164.54 C265.33 164.52 265.67 164.51 266.00 164.50 C266.33 164.48 266.67 164.47 267.00 164.45 C267.33 164.44 267.67 164.42 268.00 164.40 C268.33 164.38 268.67 164.37 269.00 164.35 C269.33 164.33 269.67 164.30 270.00 164.28 C270.33 164.26 270.67 164.24 271.00 164.21 C271.33 164.18 271.67 164.16 272.00 164.13 C272.33 164.10 272.67 164.07 273.00 164.03 C273.33 164.00 273.67 163.96 274.00 163.91 C274.33 163.87 274.67 163.82 275.00 163.77 C275.33 163.71 275.67 163.65 276.00 163.59 C276.33 163.52 276.67 163.45 277.00 163.37 C277.33 163.29 277.67 163.20 278.00 163.11 C278.33 163.03 278.67 162.93 279.00 162.83 C279.33 162.73 279.67 162.63 280.00 162.52 C280.33 162.41 280.67 162.30 281.00 162.18 C281.33 162.05 281.67 161.93 282.00 161.79 C282.33 161.66 282.67 161.51 283.00 161.36 C283.33 161.20 283.67 161.04 284.00 160.87 C284.33 160.69 284.67 160.51 285.00 160.32 C285.33 160.12 285.67 159.92 286.00 159.71 C286.33 159.51 286.67 159.29 287.00 159.07 C287.33 158.85 287.67 158.62 288.00 158.39 C288.33 158.15 288.67 157.91 289.00 157.66 C289.33 157.41 289.67 157.16 290.00 156.89 C290.33 156.63 290.67 156.36 291.00 156.08 C291.33 155.81 291.67 155.53 292.00 155.24 C292.33 154.96 292.67 154.67 293.00 154.39 C293.33 154.10 293.67 153.81 294.00 153.53 C294.33 153.24 294.67 152.95 295.00 152.66 C295.33 152.37 295.67 152.08 296.00 151.79 C296.33 151.50 296.67 151.20 297.00 150.91 C297.33 150.63 297.67 150.34 298.00 150.06 C298.33 149.78 298.67 149.50 299.00 149.23 C299.33 148.97 299.67 148.71 300.00 148.46 C300.33 148.21 300.67 147.97 301.00 147.73 C301.33 147.50 301.67 147.28 302.00 147.06 C302.33 146.85 302.67 146.64 303.00 146.44 C303.33 146.24 303.67 146.05 304.00 145.86 C304.33 145.67 304.67 145.49 305.00 145.32 C305.33 145.15 305.67 144.99 306.00 144.84 C306.33 144.68 306.67 144.53 307.00 144.39 C307.33 144.25 307.67 144.12 308.00 143.99 C308.33 143.86 308.67 143.74 309.00 143.63 C309.33 143.51 309.67 143.40 310.00 143.29 C310.33 143.19 310.67 143.09 311.00 143.00 C311.33 142.91 311.67 142.82 312.00 142.74 C312.33 142.66 312.67 142.59 313.00 142.52 C313.33 142.45 313.67 142.40 314.00 142.34 C314.33 142.28 314.67 142.23 315.00 142.19 C315.33 142.14 315.67 142.10 316.00 142.06 C316.33 142.01 316.67 141.98 317.00 141.94 C317.33 141.91 317.67 141.88 318.00 141.85 C318.33 141.82 318.67 141.79 319.00 141.76 C319.33 141.74 319.67 141.72 320.00 141.69 C320.33 141.67 320.67 141.65 321.00 141.64 C321.33 141.62 321.67 141.60 322.00 141.59 C322.33 141.57 322.70 141.56 323.00 141.55 C323.30 141.54 323.67 141.53 323.80 141.53" stroke="#FF2C00"/><path d="M418.90 198.40 C419.07 198.40 419.57 198.40 419.90 198.40 C420.23 198.40 420.57 198.40 420.90 198.40 C421.23 198.40 421.57 198.40 421.90 198.40 C422.23 198.40 422.57 198.40 422.90 198.40 C423.23 198.40 423.57 198.40 423.90 198.41 C424.23 198.41 424.57 198.41 424.90 198.43 C425.23 198.44 425.57 198.45 425.90 198.48 C426.23 198.51 426.57 198.55 426.90 198.60 C427.23 198.66 427.57 198.72 427.90 198.80 C428.23 198.89 428.57 198.99 428.90 199.10 C429.23 199.21 429.57 199.34 429.90 199.48 C430.23 199.61 430.57 199.76 430.90 199.93 C431.23 200.09 431.57 200.26 431.90 200.45 C432.23 200.64 432.57 200.84 432.90 201.06 C433.23 201.28 433.57 201.52 433.90 201.78 C434.23 202.04 434.57 202.32 434.90 202.62 C435.23 202.92 435.57 203.24 435.90 203.59 C436.23 203.93 436.57 204.29 436.90 204.67 C437.23 205.05 437.57 205.46 437.90 205.88 C438.23 206.31 438.57 206.76 438.90 207.24 C439.23 207.72 439.57 208.22 439.90 208.75 C440.23 209.27 440.57 209.82 440.90 210.39 C441.23 210.96 441.57 211.55 441.90 212.15 C442.23 212.76 442.57 213.39 442.90 214.03 C443.23 214.68 443.57 215.34 443.90 216.03 C444.23 216.71 444.57 217.41 444.90 218.13 C445.23 218.85 445.57 219.59 445.90 220.33 C446.23 221.07 446.57 221.83 446.90 222.60 C447.23 223.36 447.57 224.13 447.90 224.91 C448.23 225.68 448.57 226.47 448.90 227.26 C449.23 228.05 449.57 228.84 449.90 229.64 C450.23 230.44 450.57 231.24 450.90 232.04 C451.23 232.84 451.57 233.65 451.90 234.45 C452.23 235.26 452.57 236.06 452.90 236.86 C453.23 237.65 453.57 238.45 453.90 239.24 C454.23 240.03 454.57 240.81 454.90 241.59 C455.23 242.36 455.57 243.13 455.90 243.89 C456.23 244.64 456.57 245.39 456.90 246.12 C457.23 246.85 457.57 247.57 457.90 248.27 C458.23 248.97 458.57 249.65 458.90 250.31 C459.23 250.97 459.57 251.61 459.90 252.22 C460.23 252.83 460.57 253.42 460.90 253.99 C461.23 254.55 461.57 255.09 461.90 255.61 C462.23 256.13 462.57 256.63 462.90 257.11 C463.23 257.59 463.57 258.04 463.90 258.48 C464.23 258.92 464.57 259.34 464.90 259.74 C465.23 260.14 465.57 260.51 465.90 260.88 C466.23 261.24 466.57 261.59 466.90 261.92 C467.23 262.25 467.57 262.57 467.90 262.87 C468.23 263.18 468.57 263.47 468.90 263.75 C469.23 264.02 469.57 264.29 469.90 264.54 C470.23 264.79 470.57 265.03 470.90 265.26 C471.23 265.48 471.57 265.70 471.90 265.90 C472.23 266.10 472.57 266.29 472.90 266.48 C473.23 266.66 473.57 266.84 473.90 267.00 C474.23 267.17 474.57 267.33 474.90 267.49 C475.23 267.65 475.57 267.79 475.90 267.94 C476.23 268.08 476.57 268.22 476.90 268.34 C477.23 268.47 477.57 268.59 477.90 268.71 C478.23 268.82 478.57 268.93 478.90 269.03 C479.23 269.13 479.57 269.22 479.90 269.31 C480.23 269.39 480.57 269.47 480.90 269.55 C481.23 269.62 481.57 269.69 481.90 269.76 C482.23 269.82 482.57 269.88 482.90 269.94 C483.23 270.00 483.57 270.06 483.90 270.11 C484.23 270.16 484.57 270.21 484.90 270.26 C485.23 270.31 485.57 270.35 485.90 270.39 C486.23 270.43 486.57 270.47 486.90 270.51 C487.23 270.54 487.57 270.58 487.90 270.61 C488.23 270.64 488.57 270.67 488.90 270.70 C489.23 270.72 489.57 270.75 489.90 270.77 C490.23 270.80 490.57 270.82 490.90 270.84 C491.23 270.86 491.57 270.88 491.90 270.90 C492.23 270.92 492.57 270.94 492.90 270.96 C493.23 270.98 493.57 270.99 493.90 271.01 C494.23 271.02 494.57 271.03 494.90 271.04 C495.23 271.05 495.57 271.06 495.90 271.06 C496.23 271.07 496.57 271.07 496.90 271.07 C497.23 271.06 497.57 271.06 497.90 271.04 C498.23 271.03 498.57 271.01 498.90 270.99 C499.23 270.97 499.57 270.94 499.90 270.90 C500.23 270.87 500.57 270.83 500.90 270.78 C501.23 270.74 501.57 270.68 501.90 270.63 C502.23 270.58 502.57 270.52 502.90 270.45 C503.23 270.39 503.57 270.32 503.90 270.25 C504.23 270.18 504.57 270.10 504.90 270.01 C505.23 269.93 505.57 269.83 505.90 269.73 C506.23 269.62 506.57 269.51 506.90 269.38 C507.23 269.25 507.57 269.11 507.90 268.95 C508.23 268.79 508.57 268.62 508.90 268.43 C509.23 268.24 509.57 268.04 509.90 267.82 C510.23 267.61 510.57 267.38 510.90 267.12 C511.23 266.87 511.57 266.60 511.90 266.31 C512.23 266.01 512.57 265.69 512.90 265.35 C513.23 265.00 513.57 264.63 513.90 264.23 C514.23 263.83 514.57 263.40 514.90 262.95 C515.23 262.50 515.57 262.02 515.90 261.52 C516.23 261.02 516.57 260.51 516.90 259.96 C517.23 259.42 517.57 258.85 517.90 258.26 C518.23 257.66 518.57 257.05 518.90 256.39 C519.23 255.73 519.57 255.04 519.90 254.30 C520.23 253.56 520.57 252.79 520.90 251.96 C521.23 251.13 521.57 250.25 521.90 249.31 C522.23 248.38 522.57 247.39 522.90 246.35 C523.23 245.31 523.57 244.21 523.90 243.08 C524.23 241.95 524.57 240.76 524.90 239.55 C525.23 238.34 525.57 237.09 525.90 235.81 C526.23 234.53 526.57 233.22 526.90 231.88 C527.23 230.55 527.57 229.18 527.90 227.79 C528.23 226.39 528.57 224.97 528.90 223.52 C529.23 222.06 529.57 220.58 529.90 219.08 C530.23 217.57 530.57 216.03 530.90 214.47 C531.23 212.90 531.57 211.31 531.90 209.70 C532.23 208.09 532.57 206.45 532.90 204.81 C533.23 203.17 533.57 201.51 533.90 199.85 C534.23 198.20 534.57 196.54 534.90 194.87 C535.23 193.21 535.57 191.55 535.90 189.87 C536.23 188.19 536.57 186.51 536.90 184.80 C537.23 183.08 537.57 181.36 537.90 179.59 C538.23 177.82 538.57 176.03 538.90 174.20 C539.23 172.37 539.57 170.51 539.90 168.63 C540.23 166.75 540.57 164.83 540.90 162.92 C541.23 161.01 541.57 159.07 541.90 157.18 C542.23 155.28 542.57 153.38 542.90 151.57 C543.23 149.75 543.57 147.97 543.90 146.29 C544.23 144.61 544.57 143.00 544.90 141.49 C545.23 139.98 545.57 138.56 545.90 137.23 C546.23 135.91 546.57 134.67 546.90 133.52 C547.23 132.37 547.57 131.31 547.90 130.33 C548.23 129.36 548.57 128.47 548.90 127.67 C549.23 126.88 549.57 126.18 549.90 125.56 C550.23 124.95 550.57 124.44 550.90 123.99 C551.23 123.55 551.57 123.19 551.90 122.90 C552.23 122.62 552.57 122.40 552.90 122.26 C553.23 122.11 553.57 122.04 553.90 122.04 C554.23 122.04 554.57 122.12 554.90 122.27 C555.23 122.42 555.57 122.65 555.90 122.94 C556.23 123.23 556.57 123.59 556.90 124.01 C557.23 124.43 557.57 124.92 557.90 125.48 C558.23 126.04 558.57 126.67 558.90 127.36 C559.23 128.04 559.57 128.81 559.90 129.61 C560.23 130.42 560.57 131.29 560.90 132.19 C561.23 133.09 561.57 134.04 561.90 135.01 C562.23 135.98 562.57 136.98 562.90 137.99 C563.23 139.01 563.57 140.04 563.90 141.08 C564.23 142.12 564.57 143.17 564.90 144.22 C565.23 145.28 565.57 146.34 565.90 147.41 C566.23 148.49 566.57 149.58 566.90 150.68 C567.23 151.78 567.57 152.91 567.90 154.04 C568.23 155.17 568.57 156.33 568.90 157.48 C569.23 158.63 569.57 159.79 569.90 160.94 C570.23 162.09 570.57 163.24 570.90 164.37 C571.23 165.50 571.57 166.62 571.90 167.71 C572.23 168.80 572.57 169.88 572.90 170.93 C573.23 171.97 573.57 173.00 573.90 173.99 C574.23 174.99 574.57 175.95 574.90 176.88 C575.23 177.81 575.57 178.70 575.90 179.56 C576.23 180.42 576.57 181.24 576.90 182.04 C577.23 182.83 577.57 183.59 577.90 184.33 C578.23 185.06 578.57 185.76 578.90 186.44 C579.23 187.12 579.57 187.77 579.90 188.40 C580.23 189.03 580.57 189.63 580.90 190.21 C581.23 190.79 581.57 191.34 581.90 191.87 C582.23 192.39 582.57 192.89 582.90 193.36 C583.23 193.83 583.57 194.27 583.90 194.69 C584.23 195.10 584.57 195.49 584.90 195.85 C585.23 196.21 585.57 196.54 585.90 196.85 C586.23 197.16 586.57 197.44 586.90 197.70 C587.23 197.97 587.57 198.20 587.90 198.41 C588.23 198.63 588.57 198.82 588.90 198.99 C589.23 199.16 589.57 199.32 589.90 199.44 C590.23 199.57 590.57 199.69 590.90 199.77 C591.23 199.85 591.57 199.91 591.90 199.95 C592.23 199.98 592.57 199.98 592.90 199.97 C593.23 199.95 593.57 199.90 593.90 199.84 C594.23 199.77 594.57 199.69 594.90 199.58 C595.23 199.47 595.57 199.35 595.90 199.20 C596.23 199.05 596.57 198.88 596.90 198.68 C597.23 198.49 597.57 198.26 597.90 198.02 C598.23 197.77 598.57 197.49 598.90 197.19 C599.23 196.89 599.57 196.56 599.90 196.21 C600.23 195.86 600.57 195.49 600.90 195.09 C601.23 194.70 601.57 194.28 601.90 193.83 C602.23 193.38 602.57 192.91 602.90 192.40 C603.23 191.90 603.57 191.37 603.90 190.81 C604.23 190.25 604.57 189.66 604.90 189.04 C605.23 188.42 605.57 187.76 605.90 187.08 C606.23 186.39 606.57 185.67 606.90 184.93 C607.23 184.19 607.57 183.42 607.90 182.63 C608.23 181.84 608.57 181.03 608.90 180.20 C609.23 179.38 609.57 178.54 609.90 177.67 C610.23 176.81 610.57 175.93 610.90 175.02 C611.23 174.11 611.57 173.18 611.90 172.21 C612.23 171.23 612.57 170.23 612.90 169.18 C613.23 168.14 613.57 167.05 613.90 165.92 C614.23 164.79 614.57 163.61 614.90 162.41 C615.23 161.21 615.57 159.96 615.90 158.71 C616.23 157.45 616.57 156.16 616.90 154.87 C617.23 153.58 617.57 152.27 617.90 150.95 C618.23 149.62 618.57 148.29 618.90 146.95 C619.23 145.60 619.57 144.25 619.90 142.88 C620.23 141.51 620.57 140.13 620.90 138.74 C621.23 137.35 621.57 135.95 621.90 134.55 C622.23 133.14 622.57 131.73 622.90 130.32 C623.23 128.91 623.57 127.50 623.90 126.10 C624.23 124.70 624.57 123.30 624.90 121.90 C625.23 120.51 625.57 119.12 625.90 117.74 C626.23 116.36 626.57 114.98 626.90 113.60 C627.23 112.22 627.57 110.84 627.90 109.45 C628.23 108.06 628.57 106.68 628.90 105.28 C629.23 103.88 629.57 102.48 629.90 101.07 C630.23 99.66 630.57 98.25 630.90 96.82 C631.23 95.39 631.57 93.96 631.90 92.51 C632.23 91.06 632.57 89.60 632.90 88.14 C633.23 86.67 633.57 85.19 633.90 83.71 C634.23 82.24 634.57 80.75 634.90 79.27 C635.23 77.79 635.57 76.31 635.90 74.85 C636.23 73.38 636.57 71.92 636.90 70.47 C637.23 69.03 637.57 67.60 637.90 66.19 C638.23 64.77 638.57 63.38 638.90 62.00 C639.23 60.63 639.57 59.27 639.90 57.94 C640.23 56.60 640.57 55.28 640.90 53.99 C641.23 52.69 641.57 51.41 641.90 50.15 C642.23 48.89 642.57 47.64 642.90 46.42 C643.23 45.20 643.57 44.00 643.90 42.84 C644.23 41.67 644.57 40.53 644.90 39.44 C645.23 38.34 645.57 37.28 645.90 36.26 C646.23 35.25 646.57 34.28 646.90 33.35 C647.23 32.42 647.57 31.53 647.90 30.68 C648.23 29.83 648.57 29.03 648.90 28.25 C649.23 27.48 649.57 26.75 649.90 26.04 C650.23 25.34 650.57 24.67 650.90 24.03 C651.23 23.39 651.57 22.77 651.90 22.20 C652.23 21.62 652.57 21.07 652.90 20.57 C653.23 20.06 653.57 19.59 653.90 19.15 C654.23 18.72 654.57 18.33 654.90 17.96 C655.23 17.59 655.57 17.27 655.90 16.96 C656.23 16.65 656.57 16.37 656.90 16.11 C657.23 15.85 657.57 15.61 657.90 15.40 C658.23 15.18 658.57 14.98 658.90 14.80 C659.23 14.62 659.57 14.47 659.90 14.32 C660.23 14.18 660.57 14.06 660.90 13.96 C661.23 13.85 661.57 13.76 661.90 13.68 C662.23 13.60 662.57 13.53 662.90 13.47 C663.23 13.41 663.57 13.36 663.90 13.31 C664.23 13.27 664.57 13.23 664.90 13.20 C665.23 13.17 665.57 13.14 665.90 13.12 C666.23 13.10 666.57 13.08 666.90 13.07 C667.23 13.06 667.63 13.04 667.90 13.04 C668.17 13.03 668.40 13.02 668.50 13.02" stroke="#0C5DA5"/></g><g stroke-width="2.50"><path d="M143.3 31.7H194.6" stroke="#0C5DA5"/><path d="M143.3 68.4H194.6" stroke="#00B945"/><path d="M143.3 141.2H194.6" stroke="#FF2C00"/></g><circle cx="168.9" cy="104.8" r="2.8" fill="#FF9500"/><g font-family="Liberation Serif" fill="#1a1a1a"><path d="M216.50 22.10V46.20" stroke="#1a1a1a" stroke-width="1.10" fill="none"/><text transform="matrix(0.2169 0 0 0.2326 219.689 39.948)" font-size="100" font-style="italic">g</text><text transform="matrix(0.2339 0 0 0.2326 232.289 39.948)" font-size="100" font-style="italic">g</text><path d="M245.60 22.10L250.70 34.15L245.60 46.20" stroke="#1a1a1a" stroke-width="1.10" fill="none" stroke-linejoin="miter" stroke-miterlimit="10"/><path d="M216.50 58.73V82.83" stroke="#1a1a1a" stroke-width="1.10" fill="none"/><text transform="matrix(0.2169 0 0 0.2326 219.689 76.578)" font-size="100" font-style="italic">g</text><text transform="matrix(0.2637 0 0 0.2329 231.489 76.803)" font-size="100" font-style="italic">e</text><path d="M244.40 58.73L249.50 70.78L244.40 82.83" stroke="#1a1a1a" stroke-width="1.10" fill="none" stroke-linejoin="miter" stroke-miterlimit="10"/><path d="M216.50 95.36V119.46" stroke="#1a1a1a" stroke-width="1.10" fill="none"/><text transform="matrix(0.2586 0 0 0.2329 219.705 113.433)" font-size="100" font-style="italic">e</text><text transform="matrix(0.2339 0 0 0.2326 231.289 113.208)" font-size="100" font-style="italic">g</text><path d="M244.40 95.36L249.50 107.41L244.40 119.46" stroke="#1a1a1a" stroke-width="1.10" fill="none" stroke-linejoin="miter" stroke-miterlimit="10"/><path d="M216.50 131.99V156.09" stroke="#1a1a1a" stroke-width="1.10" fill="none"/><text transform="matrix(0.2586 0 0 0.2329 219.705 150.063)" font-size="100" font-style="italic">e</text><text transform="matrix(0.2509 0 0 0.2329 230.928 150.063)" font-size="100" font-style="italic">e</text><path d="M242.90 131.99L248.00 144.04L242.90 156.09" stroke="#1a1a1a" stroke-width="1.10" fill="none" stroke-linejoin="miter" stroke-miterlimit="10"/><path d="M293.00 20.40Q280.00 34.20 293.00 48.00L293.60 48.00Q282.60 34.20 293.60 20.40Z" fill="#1a1a1a"/><text transform="matrix(0.3038 0 0 0.2651 293.632 40.941)" font-size="100" stroke="#fff" stroke-width="1.05">a</text><path d="M307.10 20.40Q320.30 34.20 307.10 48.00L306.50 48.00Q317.70 34.20 306.50 20.40Z" fill="#1a1a1a"/><path d="M584.70 24.70Q571.70 38.35 584.70 52.00L585.30 52.00Q574.30 38.35 585.30 24.70Z" fill="#1a1a1a"/><text transform="matrix(0.2555 0 0 0.2700 587.000 45.536)" font-size="100" stroke="#fff" stroke-width="1.14">b</text><path d="M600.70 24.70Q613.70 38.35 600.70 52.00L600.10 52.00Q611.10 38.35 600.10 24.70Z" fill="#1a1a1a"/></g><g font-family="Liberation Serif" font-size="20.0" fill="#1a1a1a"><text x="58.3" y="278.80" text-anchor="end" textLength="33.6" lengthAdjust="spacingAndGlyphs">0.00</text><text x="73.60" y="301.8" text-anchor="middle" textLength="33.6" lengthAdjust="spacingAndGlyphs">0.00</text><text x="418.50" y="301.8" text-anchor="middle" textLength="33.6" lengthAdjust="spacingAndGlyphs">0.00</text><text x="58.3" y="214.20" text-anchor="end" textLength="33.6" lengthAdjust="spacingAndGlyphs">0.25</text><text x="136.30" y="301.8" text-anchor="middle" textLength="33.6" lengthAdjust="spacingAndGlyphs">0.25</text><text x="481.15" y="301.8" text-anchor="middle" textLength="33.6" lengthAdjust="spacingAndGlyphs">0.25</text><text x="58.3" y="149.60" text-anchor="end" textLength="33.6" lengthAdjust="spacingAndGlyphs">0.50</text><text x="199.00" y="301.8" text-anchor="middle" textLength="33.6" lengthAdjust="spacingAndGlyphs">0.50</text><text x="543.80" y="301.8" text-anchor="middle" textLength="33.6" lengthAdjust="spacingAndGlyphs">0.50</text><text x="58.3" y="85.00" text-anchor="end" textLength="33.6" lengthAdjust="spacingAndGlyphs">0.75</text><text x="261.70" y="301.8" text-anchor="middle" textLength="33.6" lengthAdjust="spacingAndGlyphs">0.75</text><text x="606.45" y="301.8" text-anchor="middle" textLength="33.6" lengthAdjust="spacingAndGlyphs">0.75</text><text x="58.3" y="20.40" text-anchor="end" textLength="33.6" lengthAdjust="spacingAndGlyphs">1.00</text><text x="324.40" y="301.8" text-anchor="middle" textLength="33.6" lengthAdjust="spacingAndGlyphs">1.00</text><text x="669.10" y="301.8" text-anchor="middle" textLength="33.6" lengthAdjust="spacingAndGlyphs">1.00</text><text x="403.2" y="273.30" text-anchor="end" textLength="24.6" lengthAdjust="spacingAndGlyphs">0.6</text><text x="403.2" y="209.95" text-anchor="end" textLength="24.6" lengthAdjust="spacingAndGlyphs">0.7</text><text x="403.2" y="146.60" text-anchor="end" textLength="24.6" lengthAdjust="spacingAndGlyphs">0.8</text><text x="403.2" y="83.25" text-anchor="end" textLength="24.6" lengthAdjust="spacingAndGlyphs">0.9</text><text x="403.2" y="19.90" text-anchor="end" textLength="24.6" lengthAdjust="spacingAndGlyphs">1.0</text></g><g font-family="Liberation Serif" fill="#1a1a1a"><text transform="matrix(0.3072 0 0 0.2671 179.450 326.939)" font-size="100" font-style="italic" stroke="#fff" stroke-width="1.57">t</text><path d="M190.30 332.6L199.20 308.4" stroke="#1a1a1a" stroke-width="1.15" fill="none"/><text transform="matrix(0.3111 0 0 0.2671 199.633 326.939)" font-size="100" font-style="italic" stroke="#fff" stroke-width="1.56">t</text><text transform="matrix(0.2278 0 0 0.1690 210.244 330.801)" font-size="100" font-style="italic" stroke="#fff" stroke-width="1.51">f</text><text transform="matrix(0.3072 0 0 0.2671 524.250 326.939)" font-size="100" font-style="italic" stroke="#fff" stroke-width="1.57">t</text><path d="M535.10 332.6L544.00 308.4" stroke="#1a1a1a" stroke-width="1.15" fill="none"/><text transform="matrix(0.3111 0 0 0.2671 544.433 326.939)" font-size="100" font-style="italic" stroke="#fff" stroke-width="1.56">t</text><text transform="matrix(0.2278 0 0 0.1690 555.044 330.801)" font-size="100" font-style="italic" stroke="#fff" stroke-width="1.51">f</text></g><g transform="translate(17.0 194.0) rotate(-90)" font-family="Liberation Serif" fill="#1a1a1a"><text transform="matrix(0.2565 0 0 0.2489 -0.639 0.000)" font-size="100" stroke="#fff" stroke-width="0.99">P</text><text transform="matrix(0.2265 0 0 0.2256 12.937 0.030)" font-size="100" stroke="#fff" stroke-width="1.11">o</text><text transform="matrix(0.2158 0 0 0.2251 24.252 0.007)" font-size="100" stroke="#fff" stroke-width="1.13">p</text><text transform="matrix(0.2257 0 0 0.2272 34.702 0.028)" font-size="100" stroke="#fff" stroke-width="1.10">u</text><text transform="matrix(0.2019 0 0 0.2364 46.596 0.000)" font-size="100" stroke="#fff" stroke-width="1.14">l</text><text transform="matrix(0.2683 0 0 0.2265 52.057 0.029)" font-size="100" stroke="#fff" stroke-width="1.01">a</text><text transform="matrix(0.3280 0 0 0.2593 64.080 -0.003)" font-size="100" stroke="#fff" stroke-width="0.85">t</text><text transform="matrix(0.2523 0 0 0.2356 73.770 0.000)" font-size="100" stroke="#fff" stroke-width="1.02">i</text><text transform="matrix(0.2124 0 0 0.2277 81.191 0.028)" font-size="100" stroke="#fff" stroke-width="1.14">o</text><text transform="matrix(0.2338 0 0 0.2207 92.263 0.000)" font-size="100" stroke="#fff" stroke-width="1.10">n</text></g><g transform="translate(369.30 226.00) rotate(-90)" font-family="Liberation Serif" fill="#1a1a1a"><g stroke="#1a1a1a" fill="none" stroke-linecap="round"><path d="M3.5 -14.3C3.6 -15.3 4.6 -15.3 6 -15.25L17.4 -15.7C18.2 -15.8 18.6 -16.2 18.7 -16.9" stroke-width="1.95"/><path d="M10.3 -15.2L5.6 -2.3C4.9 -0.3 3.6 1.0 2.4 0.9C1.2 0.8 0.2 0.0 0.0 -0.9" stroke-width="1.65"/><path d="M7.7 -7.9H14.5" stroke-width="1.15"/></g><circle cx="0.8" cy="-1.0" r="1.1"/><path d="M25.80 -18.20Q14.00 -5.95 25.80 6.30L26.40 6.30Q16.60 -5.95 26.40 -18.20Z" fill="#1a1a1a"/><path d="M30.50 -18.20V6.30" stroke="#1a1a1a" stroke-width="1.10" fill="none"/><text transform="matrix(0.2044 0 0 0.2566 34.481 0.300)" font-size="100">&#934;</text><path d="M57.70 -18.20Q45.90 -5.95 57.70 6.30L58.30 6.30Q48.50 -5.95 58.30 -18.20Z" fill="#1a1a1a"/><text transform="matrix(0.2599 0 0 0.2724 57.858 0.434)" font-size="100" font-style="italic">t</text><path d="M68.70 -18.20Q80.50 -5.95 68.70 6.30L68.10 6.30Q77.90 -5.95 68.10 -18.20Z" fill="#1a1a1a"/><path d="M76.80 -18.20L82.30 -5.95L76.80 6.30" stroke="#1a1a1a" stroke-width="1.10" fill="none" stroke-linejoin="miter" stroke-miterlimit="10"/><text transform="matrix(0.1679 0 0 0.3115 86.161 0.409)" font-size="100">,</text><path d="M99.20 -18.20V6.30" stroke="#1a1a1a" stroke-width="1.10" fill="none"/><text transform="matrix(0.2308 0 0 0.2620 102.253 0.444)" font-size="100">G</text><text transform="matrix(0.2289 0 0 0.2459 118.941 0.000)" font-size="100">H</text><text transform="matrix(0.2656 0 0 0.2459 136.229 0.000)" font-size="100">Z</text><path d="M151.90 -18.20L157.40 -5.95L151.90 6.30" stroke="#1a1a1a" stroke-width="1.10" fill="none" stroke-linejoin="miter" stroke-miterlimit="10"/><path d="M161.10 -18.20Q172.90 -5.95 161.10 6.30L160.50 6.30Q170.30 -5.95 160.50 -18.20Z" fill="#1a1a1a"/></g></svg></body></html>
